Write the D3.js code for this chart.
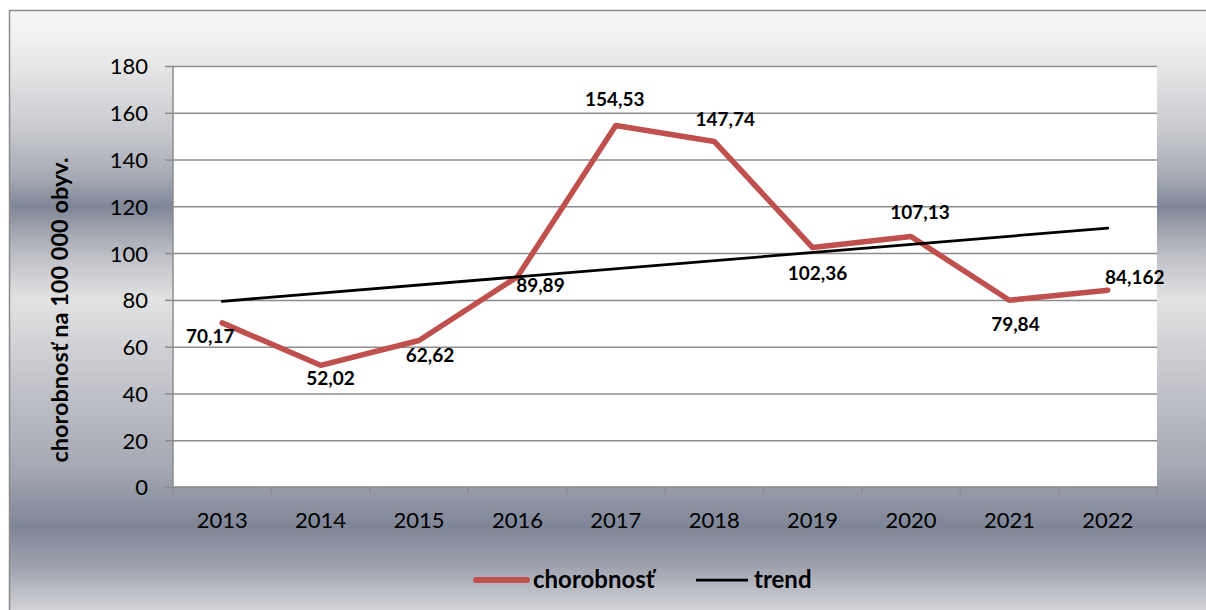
<!DOCTYPE html>
<html>
<head>
<meta charset="utf-8">
<script src="https://cdn.jsdelivr.net/npm/d3@7"></script>
<style>
  html, body { margin: 0; padding: 0; background: #ffffff; }
  svg { display: block; }
</style>
</head>
<body>
<svg id="chart" width="1206" height="610"></svg>
<script>
// ---- data ----
const years = ["2013", "2014", "2015", "2016", "2017", "2018", "2019", "2020", "2021", "2022"];
const values = [70.17, 52.02, 62.62, 89.89, 154.53, 147.74, 102.36, 107.13, 79.84, 84.162];
const yTicks = [0, 20, 40, 60, 80, 100, 120, 140, 160, 180];
const trendYears = ["2013", "2022"];
const trendValues = [79.4, 110.7];
const seriesName = "chorobnosť";
const trendName = "trend";
const yTitle = "chorobnosť na 100 000 obyv.";

// ---- layout (label placement relative to the point) ----
const labelOffsets = [[-12, 20], [10, 20], [11, 21], [23, 15], [-1, -20], [11, -15], [5, 32], [9, -17], [6, 31], [27, -6]];

const W = 1206, H = 610;
const plot = { left: 173, right: 1157, top: 66, bottom: 487 };
const FONT = "Lato, 'Liberation Sans', sans-serif";

const svg = d3.select("#chart");

// background gradient
const defs = svg.append("defs");
const grad = defs.append("linearGradient")
  .attr("id", "bg").attr("gradientUnits", "userSpaceOnUse")
  .attr("x1", 0).attr("x2", 0).attr("y1", 10).attr("y2", 610);
[
  [0, "#f6f6f6"], [0.05, "#efefef"], [0.095, "#e6e6e7"], [0.205, "#c6c8cd"],
  [0.283, "#a3a7b1"], [0.328, "#7e8597"], [0.367, "#a0a4ae"], [0.412, "#bfc1c7"],
  [0.483, "#e2e2e3"], [0.672, "#b8bac2"], [0.767, "#a3a7b1"], [0.862, "#7e8597"],
  [0.925, "#9da1ad"], [1, "#d2d3d7"]
].forEach(([o, c]) => grad.append("stop").attr("offset", o).attr("stop-color", c));

svg.append("rect").attr("x", 9.5).attr("y", 10.5).attr("width", W).attr("height", H)
  .attr("fill", "url(#bg)").attr("stroke", "#8c8c8c").attr("stroke-width", 1.5);

// scales
const x = d3.scaleBand().domain(years).range([plot.left, plot.right]).paddingInner(0).paddingOuter(0);
const cx = d => x(d) + x.bandwidth() / 2;
const y = d3.scaleLinear().domain([0, 180]).range([plot.bottom, plot.top]);

// plot area
svg.append("rect").attr("x", plot.left).attr("y", plot.top)
  .attr("width", plot.right - plot.left).attr("height", plot.bottom - plot.top)
  .attr("fill", "#ffffff");

// grid lines
const grid = svg.append("g").attr("transform", `translate(${plot.left},0)`)
  .call(d3.axisLeft(y).tickValues(yTicks).tickSize(-(plot.right - plot.left)).tickFormat(""));
grid.select(".domain").remove();
grid.selectAll("line").attr("stroke", "#8c8c8c").attr("stroke-width", 1.5);

// y axis
const yAxis = svg.append("g").attr("transform", `translate(${plot.left},0)`)
  .call(d3.axisLeft(y).tickValues(yTicks).tickSize(8).tickPadding(17));
yAxis.select(".domain").attr("stroke", "#8c8c8c").attr("stroke-width", 1.5)
  .attr("d", `M0,${plot.top}V${plot.bottom}`);
yAxis.selectAll(".tick line").attr("stroke", "#8c8c8c").attr("stroke-width", 1.5);
yAxis.selectAll(".tick text").attr("font-family", FONT).attr("font-size", 22)
  .attr("fill", "#000").attr("dy", "0.36em");

// x axis
const xAxis = svg.append("g").attr("transform", `translate(0,${plot.bottom})`)
  .call(d3.axisBottom(x).tickSize(0).tickPadding(26));
xAxis.select(".domain").attr("stroke", "#8c8c8c").attr("stroke-width", 1.5)
  .attr("d", `M${plot.left},0H${plot.right}`);
xAxis.selectAll(".tick text").attr("font-family", FONT).attr("font-size", 22)
  .attr("fill", "#000").attr("dy", "0.68em");
const bounds = years.map(d => x(d)).concat([plot.right]);
xAxis.selectAll("line.bound").data(bounds).enter().append("line").attr("class", "bound")
  .attr("x1", d => d).attr("x2", d => d).attr("y1", 0).attr("y2", 7)
  .attr("stroke", "#8c8c8c").attr("stroke-width", 1.5);

// y title
svg.append("text")
  .attr("transform", `translate(68,310) rotate(-90)`)
  .attr("text-anchor", "middle")
  .attr("font-family", FONT).attr("font-weight", "bold").attr("font-size", 23.5)
  .attr("fill", "#000")
  .text(yTitle);

// series line
const line = d3.line().x(d => cx(d[0])).y(d => y(d[1]));
svg.append("path")
  .datum(years.map((d, i) => [d, values[i]]))
  .attr("d", line)
  .attr("fill", "none").attr("stroke", "#c0504d").attr("stroke-width", 5.5)
  .attr("stroke-linejoin", "round").attr("stroke-linecap", "round");

// trend line
svg.append("path")
  .datum(trendYears.map((d, i) => [d, trendValues[i]]))
  .attr("d", line)
  .attr("fill", "none").attr("stroke", "#000").attr("stroke-width", 2.75)
  .attr("stroke-linecap", "round");

// data labels
svg.append("g").selectAll("text").data(years).enter().append("text")
  .attr("x", (d, i) => cx(d) + labelOffsets[i][0])
  .attr("y", (d, i) => y(values[i]) + labelOffsets[i][1])
  .attr("text-anchor", "middle")
  .attr("font-family", FONT).attr("font-weight", "bold").attr("font-size", 19)
  .attr("fill", "#000")
  .text((d, i) => String(values[i]).replace(".", ","));

// legend
const lg = svg.append("g");
lg.append("line").attr("x1", 476).attr("x2", 527).attr("y1", 580).attr("y2", 580)
  .attr("stroke", "#c0504d").attr("stroke-width", 6).attr("stroke-linecap", "round");
lg.append("text").attr("x", 533).attr("y", 588)
  .attr("font-family", FONT).attr("font-weight", "bold").attr("font-size", 24).attr("fill", "#000")
  .text(seriesName);
lg.append("line").attr("x1", 696).attr("x2", 748).attr("y1", 580).attr("y2", 580)
  .attr("stroke", "#000").attr("stroke-width", 2.75);
lg.append("text").attr("x", 754).attr("y", 588)
  .attr("font-family", FONT).attr("font-weight", "bold").attr("font-size", 24).attr("fill", "#000")
  .text(trendName);
</script>
</body>
</html>
